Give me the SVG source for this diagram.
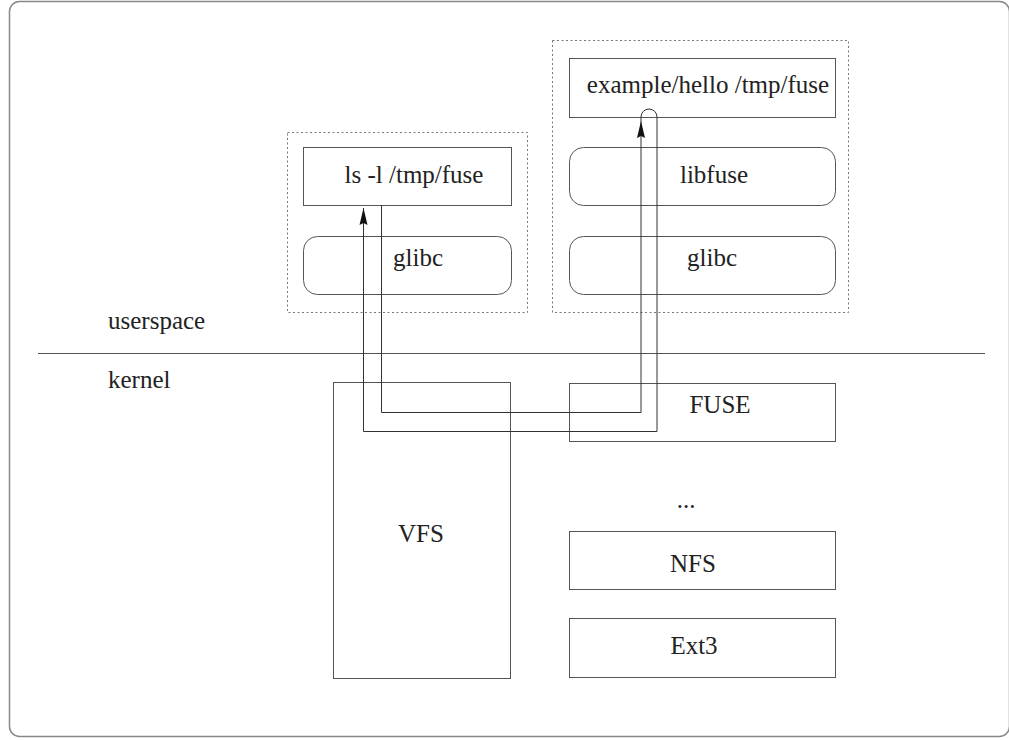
<svg xmlns="http://www.w3.org/2000/svg" width="1009" height="740" viewBox="0 0 1009 740">
  <style>
    .lbl { font-family: "Liberation Serif", "Times New Roman", serif; font-size: 25px; fill: #222; }
    .mid { text-anchor: middle; }
    .box { fill: none; stroke: #555; stroke-width: 1; }
    .group { fill: none; stroke: #777; stroke-width: 1; stroke-dasharray: 2 2.5; }
    .wire { fill: none; stroke: #333; stroke-width: 1; }
  </style>
  <defs>
    <marker id="arrow" markerUnits="userSpaceOnUse" markerWidth="20" markerHeight="12" viewBox="-17 -6 18 12" refX="0" refY="0" orient="auto">
      <path d="M0,0 L-17,-4 L-15,0 L-17,4 Z" fill="#111"/>
    </marker>
  </defs>

  <rect width="1009" height="740" fill="#fff"/>

  <!-- outer frame -->
  <rect id="frame" x="9.5" y="1.5" width="1000" height="735" rx="10" fill="none" stroke="#888" stroke-width="1.5"/>

  <!-- userspace / kernel boundary -->
  <g id="boundary">
    <line x1="38" y1="353.5" x2="985" y2="353.5" stroke="#555" stroke-width="1"/>
    <text class="lbl" x="108" y="329">userspace</text>
    <text class="lbl" x="108" y="388">kernel</text>
  </g>

  <!-- process running ls -->
  <g id="ls-process">
    <rect class="group" x="287.5" y="132.5" width="240" height="180"/>
    <g id="ls">
      <rect class="box" x="303.5" y="147.5" width="208" height="58"/>
      <text class="lbl mid" x="414" y="183">ls -l /tmp/fuse</text>
    </g>
    <g id="glibc-ls">
      <rect class="box" x="303.5" y="236.5" width="208" height="58" rx="14"/>
      <text class="lbl mid" x="418" y="266">glibc</text>
    </g>
  </g>

  <!-- process running the hello filesystem -->
  <g id="hello-process">
    <rect class="group" x="552.5" y="40.5" width="296" height="272"/>
    <g id="hello">
      <rect class="box" x="569.5" y="58.5" width="266" height="59"/>
      <text class="lbl mid" x="708" y="93">example/hello /tmp/fuse</text>
    </g>
    <g id="libfuse">
      <rect class="box" x="569.5" y="147.5" width="266" height="58" rx="14"/>
      <text class="lbl mid" x="714" y="183">libfuse</text>
    </g>
    <g id="glibc-hello">
      <rect class="box" x="569.5" y="236.5" width="266" height="58" rx="14"/>
      <text class="lbl mid" x="712" y="266">glibc</text>
    </g>
  </g>

  <!-- kernel components -->
  <g id="vfs">
    <rect class="box" x="333.5" y="382.5" width="177" height="296"/>
    <text class="lbl mid" x="421" y="542">VFS</text>
  </g>
  <g id="fuse">
    <rect class="box" x="569.5" y="383.5" width="266" height="58"/>
    <text class="lbl mid" x="720" y="413">FUSE</text>
  </g>
  <g id="more">
    <text class="lbl mid" x="686" y="508">...</text>
  </g>
  <g id="nfs">
    <rect class="box" x="569.5" y="531.5" width="266" height="58"/>
    <text class="lbl mid" x="693" y="572">NFS</text>
  </g>
  <g id="ext3">
    <rect class="box" x="569.5" y="618.5" width="266" height="59"/>
    <text class="lbl mid" x="694" y="654">Ext3</text>
  </g>

  <!-- request and reply path -->
  <g id="connectors">
    <path class="wire" d="M381.5,205 V412.5 H641 V121" marker-end="url(#arrow)"/>
    <path class="wire" d="M641,121 V117 A8,8 0 0 1 657,117 V431.5 H363.5 V208" marker-end="url(#arrow)"/>
  </g>
</svg>
